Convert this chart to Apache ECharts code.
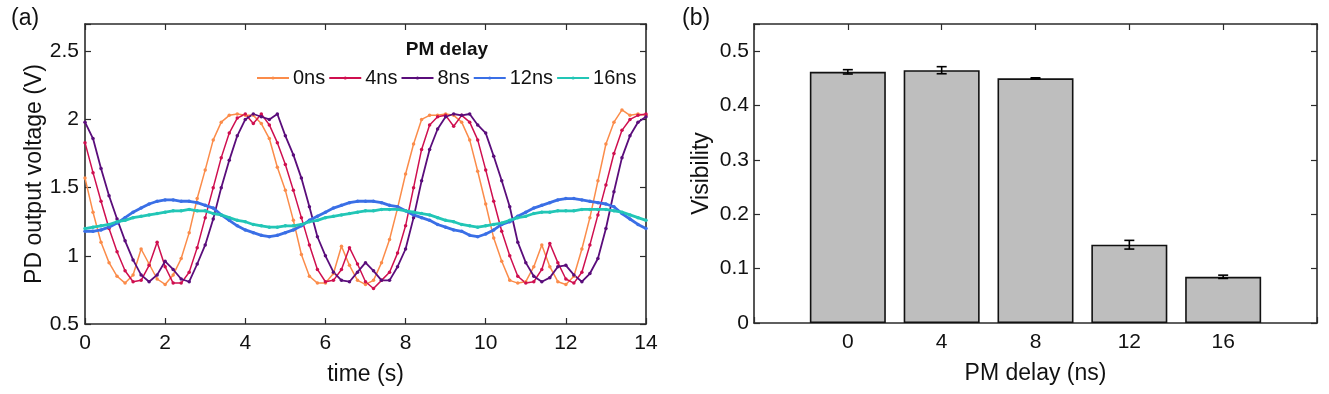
<!DOCTYPE html>
<html lang="en">
<head>
<meta charset="UTF-8">
<title>PM delay</title>
<style>
  html, body { margin: 0; padding: 0; background: #fff; }
  #main { width: 1329px; height: 394px; }
</style>
</head>
<body>
<div id="main"></div>
<script src="https://cdn.jsdelivr.net/npm/echarts@6/dist/echarts.min.js"></script>
<script>
// time grid of the traces, 0 .. 14 s
var times = [];
for (var i = 0; i <= 70; i++) times.push(+(i * 0.2).toFixed(1));

// PD output voltage (V)
var v0ns = [1.57,1.32,1.10,0.95,0.85,0.80,0.86,1.05,0.94,0.83,0.79,0.86,0.98,1.17,1.42,1.63,1.85,1.98,2.03,2.04,
  2.03,2.03,1.97,1.86,1.65,1.48,1.26,1.01,0.85,0.80,0.80,0.87,1.07,0.93,0.82,0.79,0.82,0.95,1.12,1.35,
  1.60,1.82,2.00,2.03,2.03,2.04,2.03,1.98,1.85,1.62,1.38,1.13,0.96,0.82,0.80,0.81,0.92,1.08,0.92,0.81,
  0.79,0.85,1.05,1.28,1.55,1.82,1.98,2.07,2.03,2.04,2.03];
var v4ns = [1.83,1.61,1.40,1.20,1.03,0.89,0.81,0.82,0.93,1.10,0.92,0.80,0.80,0.88,1.06,1.28,1.50,1.72,1.90,2.01,
  2.04,1.97,2.04,1.96,1.83,1.67,1.48,1.28,1.08,0.90,0.81,0.82,0.90,1.06,0.94,0.81,0.76,0.82,0.88,1.02,
  1.22,1.50,1.78,1.96,2.02,2.03,1.95,2.03,1.98,1.85,1.63,1.40,1.18,1.00,0.85,0.80,0.81,0.90,1.09,0.95,
  0.83,0.80,0.88,1.08,1.30,1.52,1.75,1.92,2.00,2.03,2.04];
var v8ns = [1.98,1.86,1.64,1.44,1.27,1.11,0.97,0.86,0.81,0.86,0.96,0.90,0.83,0.81,0.94,1.08,1.27,1.50,1.70,1.88,
  2.00,2.04,2.02,2.00,2.04,1.88,1.74,1.57,1.36,1.14,1.00,0.88,0.82,0.81,0.88,0.95,0.89,0.82,0.82,0.92,
  1.05,1.28,1.55,1.78,1.93,2.02,2.04,2.03,2.04,1.96,1.90,1.73,1.55,1.36,1.10,0.95,0.85,0.81,0.84,0.92,
  0.93,0.86,0.81,0.87,0.98,1.20,1.47,1.72,1.88,1.98,2.02];
var v12ns = [1.18,1.18,1.19,1.21,1.24,1.28,1.32,1.35,1.38,1.40,1.41,1.41,1.40,1.40,1.39,1.37,1.35,1.30,1.26,1.22,
  1.19,1.17,1.15,1.14,1.15,1.17,1.19,1.22,1.26,1.29,1.32,1.35,1.37,1.39,1.40,1.40,1.40,1.39,1.37,1.36,
  1.33,1.30,1.28,1.26,1.23,1.21,1.19,1.18,1.15,1.14,1.16,1.19,1.23,1.25,1.29,1.32,1.35,1.37,1.39,1.41,
  1.42,1.42,1.41,1.40,1.39,1.38,1.36,1.31,1.27,1.23,1.20];
var v16ns = [1.20,1.21,1.22,1.23,1.25,1.26,1.28,1.29,1.30,1.31,1.32,1.33,1.33,1.34,1.33,1.33,1.31,1.30,1.28,1.26,
  1.25,1.23,1.22,1.21,1.21,1.22,1.22,1.23,1.25,1.26,1.28,1.29,1.30,1.31,1.32,1.33,1.33,1.34,1.34,1.34,
  1.33,1.32,1.31,1.30,1.28,1.26,1.25,1.23,1.22,1.21,1.22,1.23,1.24,1.26,1.28,1.29,1.31,1.32,1.32,1.33,
  1.33,1.33,1.34,1.34,1.34,1.34,1.33,1.32,1.30,1.28,1.26];

var traceNames = ['0ns', '4ns', '8ns', '12ns', '16ns'];
var traceColors = ['#fb8c4a', '#cf0f4f', '#5a0d7b', '#3a6fe6', '#22c6b6'];
var traceWidths = [1.5, 1.5, 1.8, 2.8, 2.8];

// panel (b): visibility vs PM delay
var delays = [0, 4, 8, 12, 16];
var visibility = [0.462, 0.465, 0.450, 0.144, 0.085];
var visErr = [0.004, 0.0065, 0.001, 0.008, 0.003];

var FONT = 'Liberation Sans';
var AX = '#2b2b2b';

function pairs(vals) {
  return vals.map(function (v, i) { return [times[i], v]; });
}
function hideExtra(list) {
  return function (v) {
    for (var k = 0; k < list.length; k++) if (Math.abs(list[k] - v) < 1e-6) return String(list[k]);
    return '';
  };
}

function mainAxis(extra) {
  var base = {
    type: 'value',
    nameLocation: 'middle',
    nameTextStyle: { fontFamily: FONT, fontSize: 23, color: '#111' },
    axisLine: { show: true, onZero: false, lineStyle: { color: AX, width: 1.6 } },
    axisTick: { show: true, inside: true, length: 6, lineStyle: { color: AX, width: 1.2 } },
    splitLine: { show: false }
  };
  return Object.assign(base, extra);
}
function mirrorAxis(extra) {
  var base = {
    type: 'value',
    axisLine: { show: true, onZero: false, lineStyle: { color: AX, width: 1.6 } },
    axisTick: { show: true, inside: true, length: 6, lineStyle: { color: AX, width: 1.2 } },
    axisLabel: { show: false },
    splitLine: { show: false }
  };
  return Object.assign(base, extra);
}
function tickLabels(margin, list) {
  return { fontFamily: FONT, fontSize: 21, color: '#111', margin: margin, formatter: hideExtra(list) };
}

var allTraces = [v0ns, v4ns, v8ns, v12ns, v16ns];
var series = allTraces.map(function (vals, k) {
  return {
    name: traceNames[k],
    type: 'line',
    xAxisIndex: 0,
    yAxisIndex: 0,
    data: pairs(vals),
    symbol: 'circle',
    symbolSize: 3.5,
    showSymbol: true,
    color: traceColors[k],
    lineStyle: { width: traceWidths[k], color: traceColors[k] },
    itemStyle: { color: traceColors[k] },
    animation: false
  };
});

series.push({
  name: 'visibility',
  type: 'bar',
  xAxisIndex: 2,
  yAxisIndex: 2,
  data: delays.map(function (d, i) { return [d, visibility[i]]; }),
  barWidth: 76,
  itemStyle: { color: '#bebebe', borderColor: '#111', borderWidth: 1.6 },
  animation: false
});

series.push({
  name: 'err',
  type: 'custom',
  xAxisIndex: 2,
  yAxisIndex: 2,
  data: delays.map(function (d, i) { return [d, visibility[i], visErr[i]]; }),
  renderItem: function (params, api) {
    var x = api.value(0), y = api.value(1), e = api.value(2);
    var hi = api.coord([x, y + e]);
    var lo = api.coord([x, y - e]);
    var w = 5;
    var st = { stroke: '#000', lineWidth: 1.6 };
    return {
      type: 'group',
      children: [
        { type: 'line', shape: { x1: hi[0], y1: hi[1], x2: lo[0], y2: lo[1] }, style: st },
        { type: 'line', shape: { x1: hi[0] - w, y1: hi[1], x2: hi[0] + w, y2: hi[1] }, style: st },
        { type: 'line', shape: { x1: lo[0] - w, y1: lo[1], x2: lo[0] + w, y2: lo[1] }, style: st }
      ]
    };
  },
  z: 5,
  animation: false
});

var chart = echarts.init(document.getElementById('main'));
chart.setOption({
  backgroundColor: '#fff',
  animation: false,
  title: [
    { text: '(a)', left: 6, top: 2, textStyle: { fontFamily: FONT, fontSize: 23, fontWeight: 'normal', color: '#111' } },
    { text: '(b)', left: 677, top: 2, textStyle: { fontFamily: FONT, fontSize: 23, fontWeight: 'normal', color: '#111' } }
  ],
  graphic: [
    { type: 'text', x: 447, y: 50, style: { text: 'PM delay', align: 'center', verticalAlign: 'middle',
      font: 'bold 19px "Liberation Sans"', fill: '#111' } }
  ],
  legend: {
    data: traceNames,
    left: 256,
    top: 68,
    padding: 0,
    itemWidth: 32,
    itemHeight: 4,
    itemGap: 3,
    textStyle: { fontFamily: FONT, fontSize: 20, color: '#111', padding: [0, 0, 0, -1] }
  },
  grid: [
    { left: 85, top: 24, width: 561, height: 300 },
    { left: 754, top: 24, width: 563, height: 299 }
  ],
  xAxis: [
    mainAxis({ gridIndex: 0, min: 0, max: 14, interval: 2, name: 'time (s)', nameGap: 39,
      axisLabel: tickLabels(9, [0, 2, 4, 6, 8, 10, 12, 14]) }),
    mirrorAxis({ gridIndex: 0, min: 0, max: 14, interval: 2, position: 'top' }),
    mainAxis({ gridIndex: 1, min: -4, max: 20, interval: 4, name: 'PM delay (ns)', nameGap: 39,
      axisLabel: tickLabels(9, delays) }),
    mirrorAxis({ gridIndex: 1, min: -4, max: 20, interval: 4, position: 'top' })
  ],
  yAxis: [
    mainAxis({ gridIndex: 0, min: 0.5, max: 2.7, interval: 0.5, name: 'PD output voltage (V)', nameGap: 38,
      axisLabel: tickLabels(6, [0.5, 1, 1.5, 2, 2.5]) }),
    mirrorAxis({ gridIndex: 0, min: 0.5, max: 2.7, interval: 0.5, position: 'right' }),
    mainAxis({ gridIndex: 1, min: 0, max: 0.55, interval: 0.1, name: 'Visibility', nameGap: 41,
      axisLabel: tickLabels(5, [0, 0.1, 0.2, 0.3, 0.4, 0.5]) }),
    mirrorAxis({ gridIndex: 1, min: 0, max: 0.55, interval: 0.1, position: 'right' })
  ],
  series: series
});
</script>
</body>
</html>
